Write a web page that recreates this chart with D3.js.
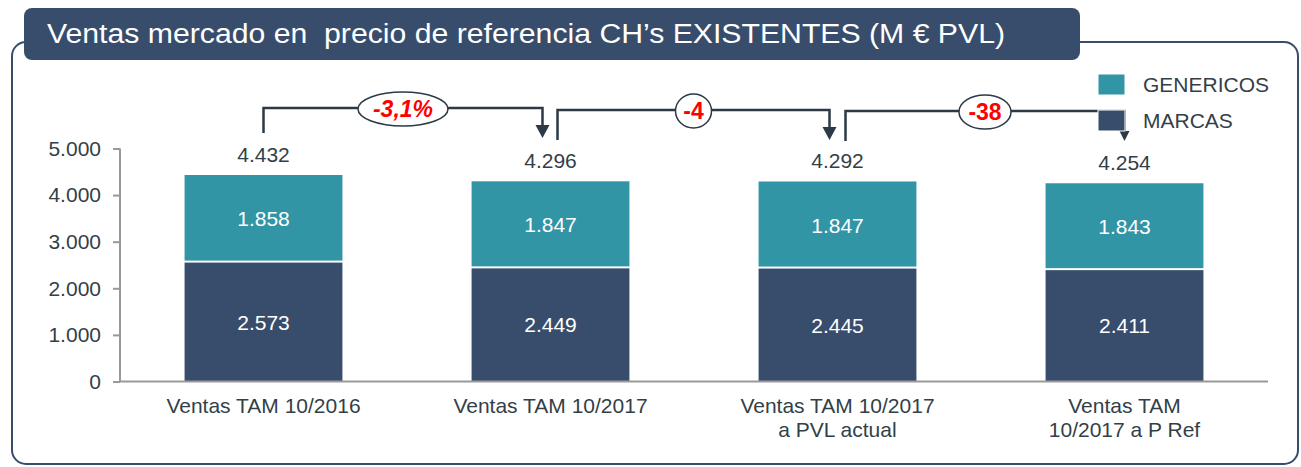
<!DOCTYPE html>
<html>
<head>
<meta charset="utf-8">
<script src="https://cdn.jsdelivr.net/npm/d3@7"></script>
<style>
  html, body { margin: 0; padding: 0; background: #fff; }
  svg { display: block; font-family: "Liberation Sans", Arial, sans-serif; }
</style>
</head>
<body>
<svg id="chart" width="1301" height="467"></svg>
<script>
// ---- data ----
const categories = [
  ["Ventas TAM 10/2016"],
  ["Ventas TAM 10/2017"],
  ["Ventas TAM 10/2017", "a PVL actual"],
  ["Ventas TAM", "10/2017 a P Ref"]
];
const marcas = [2573, 2449, 2445, 2411];
const genericos = [1858, 1847, 1847, 1843];
const totals = [4432, 4296, 4292, 4254];
const yTickValues = [0, 1000, 2000, 3000, 4000, 5000];
const seriesNames = ["GENERICOS", "MARCAS"];
const changeLabels = ["-3,1%", "-4", "-38"];
const titleText = "Ventas mercado en  precio de referencia CH\u2019s EXISTENTES (M \u20ac PVL)";

// ---- styles ----
const cDark = "#384d6c";
const cTeal = "#3295a5";
const cText = "#333f48";
const cAxis = "#999999";
const fs = 21;

const loc = d3.formatLocale({decimal: ",", thousands: ".", grouping: [3], currency: ["", "\u20ac"]});
const fmt = loc.format(",d");

const svg = d3.select("#chart");

// frame
svg.append("rect")
  .attr("x", 12).attr("y", 42).attr("width", 1286).attr("height", 422)
  .attr("rx", 14).attr("ry", 14)
  .attr("fill", "none").attr("stroke", cDark).attr("stroke-width", 2);

// title box
svg.append("rect")
  .attr("x", 24).attr("y", 8).attr("width", 1056).attr("height", 52)
  .attr("rx", 8).attr("ry", 8).attr("fill", cDark);
svg.append("text")
  .attr("x", 47).attr("y", 43)
  .attr("fill", "#ffffff").attr("font-size", 27)
  .attr("textLength", 958).attr("lengthAdjust", "spacingAndGlyphs")
  .style("white-space", "pre")
  .text(titleText);

// scales
const x = d3.scaleBand()
  .domain(d3.range(categories.length))
  .range([120, 1268])
  .paddingInner(0.45)
  .paddingOuter(0.225);
const y = d3.scaleLinear().domain([0, 5000]).range([381.5, 148.5]);

// y axis
const yAxis = d3.axisLeft(y).tickValues(yTickValues).tickSize(7).tickPadding(12).tickFormat(fmt);
const gy = svg.append("g").attr("transform", "translate(120,0)").call(yAxis);
gy.select(".domain").attr("stroke", cAxis).attr("stroke-width", 2).attr("d", `M0,${y(5000)}V${y(0)}`);
gy.selectAll(".tick line").attr("stroke", cAxis).attr("stroke-width", 2);
gy.selectAll(".tick text").attr("fill", cText).attr("font-size", fs)
  .attr("font-family", "Liberation Sans, Arial, sans-serif");

// bars
const bars = svg.append("g");
categories.forEach((c, i) => {
  const x0 = x(i), bw = x.bandwidth();
  const yM = y(marcas[i]);
  const yT = y(marcas[i] + genericos[i]);
  bars.append("rect").attr("x", x0).attr("y", yM + 1).attr("width", bw)
    .attr("height", y(0) - yM - 1).attr("fill", cDark);
  bars.append("rect").attr("x", x0).attr("y", yT).attr("width", bw)
    .attr("height", yM - 1 - yT).attr("fill", cTeal);
  const cx = x0 + bw / 2;
  bars.append("text").attr("x", cx).attr("y", (yM + y(0)) / 2 + 8)
    .attr("text-anchor", "middle").attr("fill", "#fff").attr("font-size", fs)
    .text(fmt(marcas[i]));
  bars.append("text").attr("x", cx).attr("y", (yM + yT) / 2 + 8)
    .attr("text-anchor", "middle").attr("fill", "#fff").attr("font-size", fs)
    .text(fmt(genericos[i]));
  bars.append("text").attr("x", cx).attr("y", y(totals[i]) - 13)
    .attr("text-anchor", "middle").attr("fill", cText).attr("font-size", fs)
    .text(fmt(totals[i]));
});

// x axis
svg.append("line").attr("x1", 120).attr("x2", 1268).attr("y1", y(0)).attr("y2", y(0))
  .attr("stroke", cAxis).attr("stroke-width", 2);
categories.forEach((lines, i) => {
  const t = svg.append("text").attr("text-anchor", "middle").attr("fill", cText).attr("font-size", fs);
  lines.forEach((l, j) => {
    t.append("tspan").attr("x", x(i) + x.bandwidth() / 2).attr("y", 413 + j * 24).text(l);
  });
});

// connectors
const conn = svg.append("g");
const connectorSpecs = [
  {from: 0, to: 1, fromOff: 0, toOff: -8, yLine: 108, yStart: 133, yTip: 138, head: 7, headH: 13, rx: 45, italic: true},
  {from: 1, to: 2, fromOff: 7, toOff: -8, yLine: 110, yStart: 140, yTip: 140, head: 7, headH: 13, rx: 18, italic: false},
  {from: 2, to: 3, fromOff: 8, toOff: 0, yLine: 111, yStart: 141, yTip: 141, head: 5, headH: 10, rx: 26, italic: false}
];
connectorSpecs.forEach((s, k) => {
  const xa = x(s.from) + x.bandwidth() / 2 + s.fromOff;
  const xb = x(s.to) + x.bandwidth() / 2 + s.toOff;
  conn.append("path")
    .attr("d", `M${xa},${s.yStart}V${s.yLine}H${xb}V${s.yTip - s.headH + 1}`)
    .attr("fill", "none").attr("stroke", "#2b3a46").attr("stroke-width", 2.5);
  conn.append("path")
    .attr("d", `M${xb - s.head},${s.yTip - s.headH}L${xb + s.head},${s.yTip - s.headH}L${xb},${s.yTip}Z`)
    .attr("fill", "#2b3a46");
  const ecx = k === 0 ? 403 : (k === 1 ? (xa + xb) / 2 : 985);
  conn.append("ellipse").attr("cx", ecx).attr("cy", s.yLine + 1).attr("rx", s.rx).attr("ry", 17)
    .attr("fill", "#fff").attr("stroke", "#2b3a46").attr("stroke-width", 1.5);
  conn.append("text").attr("x", ecx).attr("y", s.yLine + 9)
    .attr("text-anchor", "middle").attr("fill", "#ff0000").attr("font-size", 23)
    .attr("font-weight", "bold").attr("font-style", s.italic ? "italic" : "normal")
    .text(changeLabels[k]);
});

// legend
const legColors = [cTeal, cDark];
const legY = [74, 110];
seriesNames.forEach((n, i) => {
  svg.append("rect").attr("x", 1098).attr("y", legY[i]).attr("width", 27).attr("height", 21)
    .attr("fill", legColors[i]).attr("stroke", "#fff").attr("stroke-width", 1);
  svg.append("text").attr("x", 1143).attr("y", legY[i] + 18).attr("fill", cText).attr("font-size", fs)
    .text(n);
});
</script>
</body>
</html>
